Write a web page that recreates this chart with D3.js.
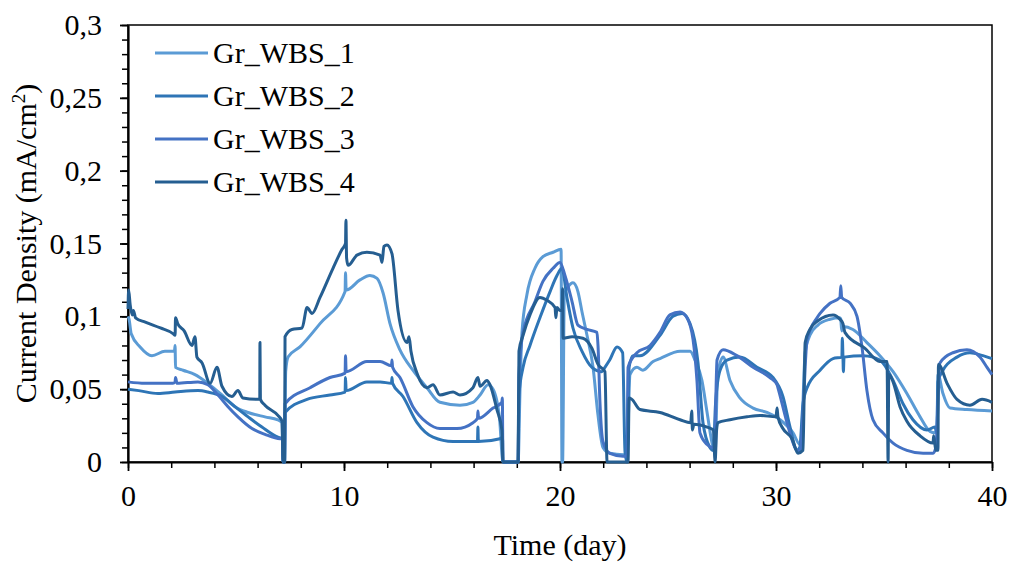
<!DOCTYPE html>
<html>
<head>
<meta charset="utf-8">
<script src="https://cdn.jsdelivr.net/npm/d3@7"></script>
<style>
  body { margin: 0; background: #fff; }
  text { font-family: "Liberation Serif", "Times New Roman", serif; fill: #000; }
</style>
</head>
<body>
<svg id="chart" width="1012" height="562"></svg>
<script>
// Series names and colours
const seriesNames = ["Gr_WBS_1", "Gr_WBS_2", "Gr_WBS_3", "Gr_WBS_4"];
const seriesColors = ["#5B9BD5", "#2E75B6", "#4472C4", "#255E91"];

// Axis ticks
const xTicks = [0, 10, 20, 30, 40];
const yTicks = [0, 0.05, 0.1, 0.15, 0.2, 0.25, 0.3];

// Readings as [day, current density mA/cm2]
const wbs1 = [
  [0, 0.1], [0.05, 0.098], [0.15, 0.088], [0.56, 0.079], [1.11, 0.073], [1.71, 0.076], [2.15, 0.076],
  [2.18, 0.08], [2.2, 0.065], [2.55, 0.063], [3.1, 0.06], [3.7, 0.054], [4.35, 0.046], [4.95, 0.038],
  [5.56, 0.034], [6.34, 0.031], [6.94, 0.029], [7.13, 0.027], [7.18, 0], [7.25, 0], [7.3, 0.062],
  [7.41, 0.072], [7.96, 0.079], [8.89, 0.095], [10.05, 0.117], [10.07, 0.13], [10.1, 0.118],
  [10.74, 0.125], [11.2, 0.128], [11.53, 0.126], [11.81, 0.116], [12.13, 0.095], [12.59, 0.077],
  [13.19, 0.063], [13.84, 0.051], [14.44, 0.041], [15.37, 0.039], [15.97, 0.041], [16.3, 0.046],
  [16.67, 0.053], [16.9, 0.05], [17.2, 0.03], [17.36, 0], [18.06, 0], [18.15, 0.05], [18.24, 0.089],
  [18.47, 0.115], [18.84, 0.133], [19.21, 0.141], [19.68, 0.144], [20.05, 0.146], [20.09, 0],
  [20.12, 0], [20.2, 0.115], [20.37, 0.12], [20.6, 0.123], [20.83, 0.117], [21.02, 0.103],
  [21.25, 0.087], [21.53, 0.065], [21.76, 0.032], [21.99, 0.01], [22.31, 0.006], [22.92, 0.005],
  [23.1, 0.005], [23.24, 0.06], [23.56, 0.065], [23.84, 0.063], [24.31, 0.069], [24.63, 0.071],
  [25.56, 0.076], [26.02, 0.076], [26.25, 0.07], [26.57, 0.056], [26.81, 0.034], [27.04, 0.013],
  [27.18, 0.006], [27.3, 0.06], [27.55, 0.072], [27.87, 0.056], [28.33, 0.044], [28.94, 0.037],
  [29.58, 0.034], [30.19, 0.029], [30.79, 0.02], [31.11, 0.012], [31.15, 0.012], [31.35, 0.075],
  [31.57, 0.087], [31.94, 0.094], [32.5, 0.098], [32.96, 0.099], [33.0, 0.098], [33.04, 0.09],
  [33.1, 0.093], [33.56, 0.091], [34.21, 0.082], [34.81, 0.073], [35.42, 0.062], [36.06, 0.047],
  [36.67, 0.031], [37.13, 0.021], [37.36, 0.02], [37.45, 0.025], [37.5, 0.06], [37.73, 0.047],
  [38.06, 0.037], [38.84, 0.036], [40, 0.035]
];

const wbs2 = [
  [0, 0.05], [0.5, 0.049], [1.39, 0.047], [2.18, 0.048], [3.24, 0.049], [3.7, 0.048], [4.35, 0.045],
  [4.95, 0.038], [5.56, 0.031], [6.2, 0.024], [6.94, 0.017], [7.15, 0.016], [7.18, 0], [7.25, 0],
  [7.27, 0.034], [8.29, 0.043], [9.35, 0.046], [10.05, 0.048], [10.07, 0.058], [10.1, 0.049],
  [11.06, 0.055], [11.67, 0.055], [12.2, 0.054], [12.22, 0.058], [12.25, 0.054], [12.73, 0.045],
  [13.38, 0.027], [14.12, 0.017], [15.05, 0.014], [15.97, 0.014], [16.18, 0.014], [16.2, 0.024],
  [16.22, 0.014], [17.22, 0.016], [17.34, 0.017], [17.36, 0], [18.06, 0], [18.1, 0.046],
  [18.29, 0.065], [18.61, 0.08], [19.07, 0.099], [19.54, 0.117], [19.86, 0.128], [20.09, 0.133],
  [20.32, 0.113], [20.6, 0.092], [21.02, 0.076], [21.48, 0.065], [21.94, 0.062], [22.08, 0.065],
  [22.3, 0.07], [22.64, 0.079], [22.9, 0.075], [23.01, 0.007], [23.1, 0], [23.2, 0.065],
  [23.38, 0.073], [23.7, 0.073], [24.63, 0.087], [25.23, 0.1], [25.65, 0.102], [26.02, 0.095],
  [26.39, 0.068], [26.62, 0.027], [26.94, 0.01], [27.1, 0.008], [27.2, 0.04], [27.41, 0.063],
  [27.73, 0.07], [28.33, 0.072], [29.12, 0.065], [29.86, 0.058], [30.32, 0.045], [30.65, 0.024],
  [30.97, 0.008], [31.1, 0.01], [31.25, 0.04], [31.44, 0.051], [32.04, 0.063], [32.64, 0.071],
  [33.05, 0.072], [33.07, 0.085], [33.1, 0.072], [33.12, 0.062], [33.15, 0.072], [34.03, 0.073],
  [34.49, 0.072], [34.95, 0.068], [35.42, 0.056], [35.88, 0.04], [36.34, 0.029], [36.99, 0.022],
  [37.36, 0.024], [37.45, 0.02], [37.5, 0.055], [37.73, 0.063], [38.38, 0.072], [38.98, 0.075],
  [39.58, 0.073], [40, 0.071]
];

const wbs3 = [
  [0, 0.055], [0.79, 0.054], [2.08, 0.054], [2.18, 0.055], [2.2, 0.058], [2.27, 0.054], [3.24, 0.055],
  [3.7, 0.053], [4.17, 0.046], [4.63, 0.038], [5.09, 0.031], [5.74, 0.023], [6.34, 0.019],
  [7.04, 0.016], [7.15, 0.016], [7.18, 0], [7.25, 0], [7.27, 0.04], [8.43, 0.051], [9.35, 0.058],
  [10.05, 0.061], [10.07, 0.073], [10.1, 0.062], [11.06, 0.069], [11.67, 0.069], [12.2, 0.066],
  [12.22, 0.07], [12.25, 0.065], [12.59, 0.058], [13.19, 0.038], [13.84, 0.027], [14.44, 0.023],
  [15.23, 0.023], [15.97, 0.027], [16.18, 0.03], [16.2, 0.035], [16.23, 0.03], [16.9, 0.037],
  [17.31, 0.041], [17.33, 0.044], [17.36, 0], [18.06, 0], [18.1, 0.06], [18.29, 0.089],
  [18.84, 0.11], [19.21, 0.124], [19.68, 0.133], [20.0, 0.137], [20.23, 0.128], [20.56, 0.11],
  [20.83, 0.094], [21.25, 0.091], [21.71, 0.089], [21.76, 0.08], [21.85, 0.041], [21.99, 0.014],
  [22.31, 0.006], [22.92, 0.004], [23.1, 0.004], [23.15, 0.065], [23.56, 0.075], [24.17, 0.08],
  [24.63, 0.089], [25.09, 0.101], [25.56, 0.103], [25.88, 0.099], [26.16, 0.084], [26.34, 0.056],
  [26.48, 0.02], [26.81, 0.012], [27.04, 0.01], [27.15, 0.01], [27.27, 0.07], [27.55, 0.077],
  [28.19, 0.073], [28.94, 0.065], [29.72, 0.058], [30.05, 0.053], [30.09, 0.051], [30.51, 0.027],
  [30.88, 0.01], [31.11, 0.007], [31.2, 0.02], [31.44, 0.084], [31.9, 0.099], [32.04, 0.102],
  [32.5, 0.109], [32.96, 0.113], [33.0, 0.121], [33.04, 0.113], [33.43, 0.109], [33.75, 0.1],
  [33.98, 0.079], [34.21, 0.049], [34.49, 0.029], [34.95, 0.02], [35.42, 0.013], [36.06, 0.008],
  [36.81, 0.006], [37.27, 0.006], [37.4, 0.01], [37.59, 0.068], [38.19, 0.075], [38.84, 0.077],
  [39.44, 0.072], [39.77, 0.065], [40, 0.06]
];

const wbs4 = [
  [0, 0.105], [0.03, 0.118], [0.1, 0.108], [0.2, 0.101], [0.25, 0.104], [0.35, 0.099], [0.8, 0.096],
  [1.5, 0.092], [2.1, 0.088], [2.18, 0.087], [2.2, 0.099], [2.3, 0.095], [2.6, 0.09], [2.96, 0.08],
  [3.1, 0.086], [3.19, 0.072], [3.43, 0.068], [3.8, 0.054], [4.12, 0.065], [4.35, 0.052],
  [4.81, 0.045], [5.09, 0.049], [5.32, 0.044], [6.02, 0.043], [6.1, 0.043], [6.11, 0.082],
  [6.13, 0.043], [6.34, 0.039], [6.94, 0.032], [7.13, 0.028], [7.18, 0], [7.25, 0], [7.27, 0.086],
  [7.59, 0.091], [8.06, 0.092], [8.29, 0.106], [8.52, 0.102], [8.89, 0.113], [9.49, 0.133],
  [9.91, 0.146], [10.07, 0.15], [10.09, 0.166], [10.12, 0.14], [10.19, 0.135], [10.6, 0.142],
  [11.06, 0.144], [11.67, 0.142], [11.76, 0.137], [11.85, 0.148], [11.99, 0.149], [12.22, 0.143],
  [12.5, 0.104], [12.92, 0.082], [13.01, 0.086], [13.1, 0.076], [13.38, 0.061], [13.84, 0.051],
  [14.12, 0.053], [14.44, 0.046], [15.05, 0.048], [15.37, 0.046], [15.97, 0.051], [16.2, 0.058],
  [16.3, 0.052], [16.62, 0.056], [16.76, 0.053], [17.08, 0.036], [17.31, 0.022], [17.36, 0],
  [18.06, 0], [18.1, 0.076], [18.29, 0.087], [18.61, 0.101], [19.07, 0.113], [19.4, 0.111],
  [19.77, 0.106], [19.81, 0.099], [19.86, 0.106], [20.0, 0.104], [20.1, 0.104], [20.12, 0.119],
  [20.14, 0.085], [20.56, 0.086], [21.06, 0.085], [21.48, 0.078], [21.76, 0.067], [22.08, 0.062],
  [22.18, 0], [23.15, 0], [23.2, 0.044], [23.33, 0.043], [23.7, 0.036], [24.63, 0.034],
  [25.56, 0.029], [26.05, 0.027], [26.1, 0.035], [26.13, 0.022], [26.2, 0.026], [26.81, 0.024],
  [27.1, 0.022], [27.18, 0], [27.25, 0.022], [27.31, 0.027], [27.87, 0.029], [28.66, 0.031],
  [29.26, 0.032], [30.0, 0.031], [30.05, 0.037], [30.09, 0.031], [30.32, 0.023], [30.74, 0.016],
  [31.02, 0.006], [31.25, 0.008], [31.35, 0.082], [31.57, 0.091], [31.94, 0.097], [32.64, 0.101],
  [32.96, 0.098], [33.1, 0.095], [33.19, 0.089], [34.12, 0.078], [34.81, 0.069], [35.14, 0.069],
  [35.19, 0], [35.22, 0.06], [35.42, 0.055], [35.74, 0.038], [36.06, 0.028], [36.67, 0.018],
  [37.27, 0.013], [37.3, 0.018], [37.4, 0.008], [37.5, 0.008], [37.52, 0.067], [37.92, 0.054],
  [38.38, 0.043], [38.98, 0.039], [39.54, 0.043], [40, 0.041]
];

const allSeries = [wbs1, wbs2, wbs3, wbs4];

const svg = d3.select("#chart");
const plot = { left: 128, right: 992, top: 25, bottom: 462 };

const x = d3.scaleLinear().domain([0, 40]).range([plot.left, plot.right]);
const y = d3.scaleLinear().domain([0, 0.3]).range([plot.bottom, plot.top]);

const fmt = d => String(+d.toFixed(2)).replace(".", ",");

// frame (top + right)
svg.append("rect")
    .attr("x", plot.left).attr("y", plot.top)
    .attr("width", plot.right - plot.left).attr("height", plot.bottom - plot.top)
    .attr("fill", "none").attr("stroke", "#000").attr("stroke-width", 1.5);

// minor ticks
svg.append("g")
    .attr("transform", `translate(0,${plot.bottom})`)
    .call(d3.axisBottom(x).tickValues(d3.range(0, 41, 2)).tickSize(6).tickFormat(""))
    .call(g => g.select(".domain").remove())
    .selectAll("line").attr("stroke-width", 1.5);

svg.append("g")
    .attr("transform", `translate(${plot.left},0)`)
    .call(d3.axisLeft(y).tickValues(d3.range(0, 31).map(d => d / 100)).tickSize(6).tickFormat(""))
    .call(g => g.select(".domain").remove())
    .selectAll("line").attr("stroke-width", 1.5);

// main axes
const xAxis = svg.append("g")
    .attr("transform", `translate(0,${plot.bottom})`)
    .call(d3.axisBottom(x).tickValues(xTicks).tickSize(9).tickSizeOuter(0).tickPadding(14));

const yAxis = svg.append("g")
    .attr("transform", `translate(${plot.left},0)`)
    .call(d3.axisLeft(y).tickValues(yTicks).tickSize(8).tickSizeOuter(0).tickPadding(18).tickFormat(fmt));

[xAxis, yAxis].forEach(g => {
    g.select(".domain").attr("stroke-width", 2.2);
    g.selectAll("line").attr("stroke-width", 1.8);
    g.selectAll("text")
        .style("font-family", '"Liberation Serif", "Times New Roman", serif')
        .style("font-size", "30px");
});

// series lines (smoothed, data is dense in the original)
const line = d3.line()
    .x(d => x(d[0]))
    .y(d => y(d[1]))
    .curve(d3.curveMonotoneX);

svg.append("g")
    .selectAll("path")
    .data(allSeries)
    .join("path")
    .attr("d", line)
    .attr("fill", "none")
    .attr("stroke", (d, i) => seriesColors[i])
    .attr("stroke-width", 3)
    .attr("stroke-linejoin", "round");

// legend
const legend = svg.append("g")
    .selectAll("g")
    .data(seriesNames)
    .join("g")
    .attr("transform", (d, i) => `translate(155,${53 + i * 43})`);

legend.append("line")
    .attr("x1", 0).attr("x2", 53)
    .attr("stroke", (d, i) => seriesColors[i])
    .attr("stroke-width", 3);

legend.append("text")
    .attr("x", 58).attr("y", 10)
    .style("font-size", "30px")
    .text(d => d);

// axis titles
svg.append("text")
    .attr("x", (plot.left + plot.right) / 2).attr("y", 555)
    .attr("text-anchor", "middle")
    .style("font-size", "30px")
    .text("Time (day)");

const yTitle = svg.append("text")
    .attr("transform", `translate(36,${(plot.top + plot.bottom) / 2}) rotate(-90)`)
    .attr("text-anchor", "middle")
    .style("font-size", "30px");
yTitle.append("tspan").text("Current Density (mA/cm");
yTitle.append("tspan").attr("dy", -11).style("font-size", "19px").text("2");
yTitle.append("tspan").attr("dy", 11).text(")");
</script>
</body>
</html>
